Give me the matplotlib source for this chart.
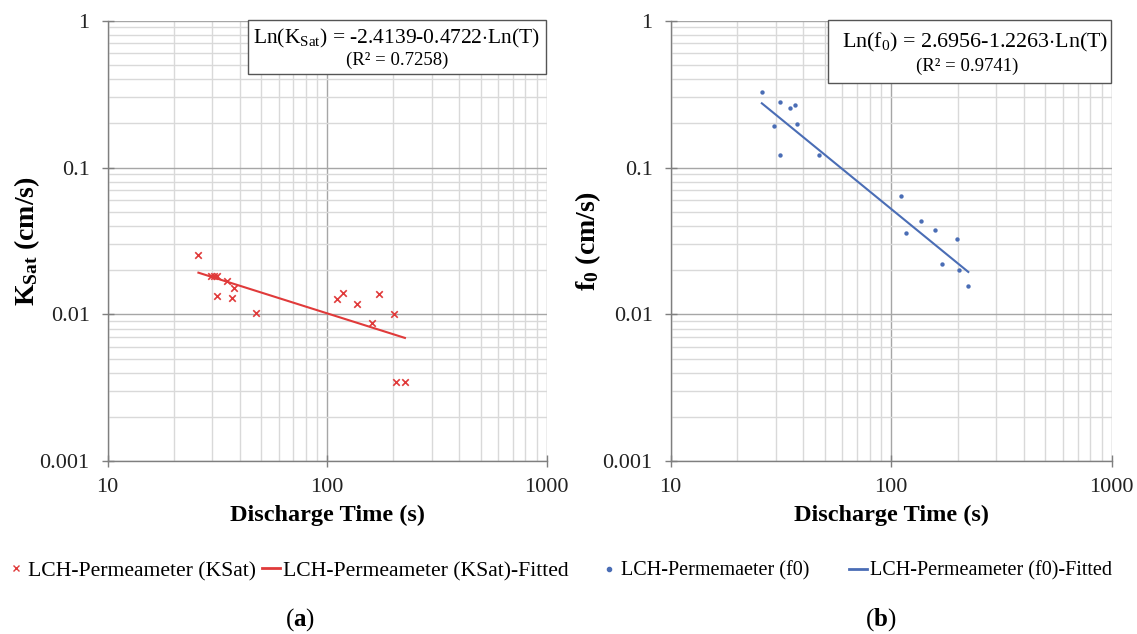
import numpy as np
import matplotlib
matplotlib.use("Agg")
import matplotlib.pyplot as plt
from matplotlib.ticker import LogLocator, FixedLocator, NullFormatter
from matplotlib.lines import Line2D

plt.rcParams['font.family'] = ['Liberation Serif', 'DejaVu Serif']
plt.rcParams['mathtext.fontset'] = 'custom'
plt.rcParams['mathtext.rm'] = 'Liberation Serif'
plt.rcParams['mathtext.it'] = 'Liberation Serif:italic'
plt.rcParams['mathtext.bf'] = 'Liberation Serif:bold'

# ---- data (a) ----
t_ksat = [25.9, 29.5, 30.5, 31.4, 34.8, 37.6, 31.5, 36.7, 47.6,
          110.9, 117.7, 137.4, 172.0, 160.7, 201.0, 205.0, 226.0]
ksat = [0.0255, 0.0184, 0.0184, 0.0184, 0.0170, 0.0151, 0.0133, 0.0130, 0.0102,
        0.0128, 0.0140, 0.0117, 0.0137, 0.0087, 0.0101, 0.00345, 0.00345]
ksat_coef = (-2.4139, -0.4722)   # Ln(K) = a + b Ln(T)
ksat_r2 = 0.7258

# ---- data (b) ----
t_f0 = [25.9, 31.2, 34.8, 36.5, 29.3, 37.5, 31.3, 47.2,
        110.4, 116.7, 136.1, 158.5, 199.5, 170.5, 203.6, 223.7]
f0 = [0.328, 0.280, 0.255, 0.265, 0.191, 0.198, 0.1227, 0.1227,
      0.0644, 0.0356, 0.0435, 0.0373, 0.0328, 0.0219, 0.0201, 0.0155]
f0_coef = (2.6956, -1.2263)
f0_r2 = 0.9741

x_ticks = [10, 100, 1000]
y_ticks = [0.001, 0.01, 0.1, 1]
x_ticklabels = ['10', '100', '1000']
y_ticklabels = ['0.001', '0.01', '0.1', '1']

red = '#e03a3a'
blue = '#4a6db5'

W, H = 1137, 634
fig = plt.figure(figsize=(W / 100, H / 100), dpi=100)

def fx(px):
    return px / W

def fy(py):
    return 1 - py / H

ax_pos = [
    [fx(107.7), fy(461.3), fx(546.7 - 107.7), (461.3 - 20.7) / H],
    [fx(670.7), fy(461.3), fx(1111.7 - 670.7), (461.3 - 20.7) / H],
]

def style_axes(ax):
    ax.set_xscale('log')
    ax.set_yscale('log')
    ax.set_xlim(10, 1000)
    ax.set_ylim(0.001, 1)
    ax.xaxis.set_major_locator(FixedLocator(x_ticks))
    ax.yaxis.set_major_locator(FixedLocator(y_ticks))
    ax.set_xticklabels(x_ticklabels)
    ax.set_yticklabels(y_ticklabels)
    ax.xaxis.set_minor_locator(LogLocator(base=10, subs=np.arange(2, 10)))
    ax.yaxis.set_minor_locator(LogLocator(base=10, subs=np.arange(2, 10)))
    ax.xaxis.set_minor_formatter(NullFormatter())
    ax.yaxis.set_minor_formatter(NullFormatter())
    ax.grid(which='major', color='#a6a6a6', linewidth=1.0)
    ax.grid(which='minor', color='#d9d9d9', linewidth=1.0)
    ax.set_axisbelow(True)
    for s in ['top', 'right']:
        ax.spines[s].set_visible(False)
    for s in ['left', 'bottom']:
        ax.spines[s].set_color('#7f7f7f')
        ax.spines[s].set_linewidth(1.0)
    ax.tick_params(which='major', direction='inout', length=8, width=1.0,
                   color='#7f7f7f', labelsize=16, labelcolor='#222222')
    ax.tick_params(axis='y', which='major', pad=9)
    ax.tick_params(axis='x', which='major', pad=8)
    ax.tick_params(which='minor', length=0)
    ax.set_xlabel('Discharge Time (s)', fontsize=17.5, fontweight='bold', labelpad=6)

def fit_line(t, coef):
    t_end = np.array([min(t), max(t)])
    return t_end, np.exp(coef[0] + coef[1] * np.log(t_end))

# (a)
ax1 = fig.add_axes(ax_pos[0])
style_axes(ax1)
ax1.scatter(t_ksat, ksat, marker='x', s=22, color=red, linewidths=1.2, zorder=3)
tx, ty = fit_line(t_ksat, ksat_coef)
ax1.plot(tx, ty, color=red, linewidth=1.5, zorder=3)
ax1.set_ylabel(r'$\mathbf{K}_{\mathbf{Sat}}$' + ' (cm/s)', fontsize=20, fontweight='bold')
ax1.yaxis.set_label_coords(-0.149, 0.5)

# (b)
ax2 = fig.add_axes(ax_pos[1])
style_axes(ax2)
ax2.scatter(t_f0, f0, marker='o', s=10, color=blue, linewidths=0, zorder=3)
tx, ty = fit_line(t_f0, f0_coef)
ax2.plot(tx, ty, color=blue, linewidth=1.5, zorder=3)
ax2.set_ylabel(r'$\mathbf{f}_{\mathbf{0}}$' + ' (cm/s)', fontsize=20, fontweight='bold')
ax2.yaxis.set_label_coords(-0.153, 0.5)

# equation boxes
box1 = plt.Rectangle((fx(248), fy(74)), fx(546 - 248), (74 - 20) / H,
                     transform=fig.transFigure, facecolor='white',
                     edgecolor='#555555', linewidth=1.0, zorder=5)
box2 = plt.Rectangle((fx(828), fy(83)), fx(1111 - 828), (83 - 20) / H,
                     transform=fig.transFigure, facecolor='white',
                     edgecolor='#555555', linewidth=1.0, zorder=5)
fig.add_artist(box1)
fig.add_artist(box2)
fig.text(fx(397), fy(38),
         r'Ln(K$_{\mathrm{Sat}}$) = %.4f%.4f$\cdot$Ln(T)' % (ksat_coef[0], ksat_coef[1]),
         ha='center', va='center', fontsize=15.5, zorder=10)
fig.text(fx(397), fy(60), '(R\u00b2 = %.4f)' % ksat_r2,
         ha='center', va='center', fontsize=13.5, zorder=10)
fig.text(fx(975), fy(42),
         r'Ln(f$_{\mathrm{0}}$) = %.4f%.4f$\cdot$Ln(T)' % (f0_coef[0], f0_coef[1]),
         ha='center', va='center', fontsize=15.8, zorder=10)
fig.text(fx(967), fy(66), '(R\u00b2 = %.4f)' % f0_r2,
         ha='center', va='center', fontsize=13.5, zorder=10)

# legends
h1 = [Line2D([], [], marker='x', color=red, linestyle='none', markersize=4, markeredgewidth=1.0),
      Line2D([], [], color=red, linewidth=2)]
fig.legend(h1, ['LCH-Permeameter (KSat)', 'LCH-Permeameter (KSat)-Fitted'],
           loc='center', bbox_to_anchor=(fx(288), fy(571)), ncol=2, frameon=False,
           fontsize=15.6, handlelength=0.8, handletextpad=0.15, columnspacing=0.3,
           borderpad=0, borderaxespad=0)
h2 = [Line2D([], [], marker='o', color=blue, linestyle='none', markersize=3),
      Line2D([], [], color=blue, linewidth=2)]
fig.legend(h2, ['LCH-Permemaeter (f0)', 'LCH-Permeameter (f0)-Fitted'],
           loc='center', bbox_to_anchor=(fx(856), fy(571)), ncol=2, frameon=False,
           fontsize=14.5, handlelength=0.9, handletextpad=0.15, columnspacing=1.95,
           borderpad=0, borderaxespad=0)

fig.text(fx(300), fy(620), r'($\mathbf{a}$)', ha='center', va='center', fontsize=18)
fig.text(fx(881), fy(620), r'($\mathbf{b}$)', ha='center', va='center', fontsize=18)

fig.savefig('out.png', dpi=100, facecolor='white')
